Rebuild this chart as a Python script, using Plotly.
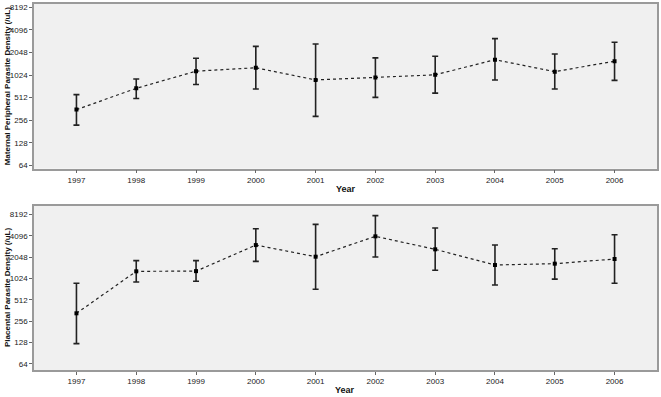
import math
import plotly.graph_objects as go

years = [1997, 1998, 1999, 2000, 2001, 2002, 2003, 2004, 2005, 2006]

# Maternal peripheral parasite density (/uL): mean, upper CI, lower CI
mat_mean = [354, 680, 1152, 1280, 880, 950, 1030, 1640, 1135, 1565]
mat_upper = [560, 905, 1710, 2470, 2650, 1735, 1820, 3130, 1950, 2800]
mat_lower = [220, 498, 765, 666, 288, 515, 588, 880, 666, 870]

# Placental parasite density (/uL)
pla_mean = [329, 1287, 1295, 3020, 2070, 4010, 2630, 1580, 1650, 1920]
pla_upper = [872, 1820, 1820, 5140, 5920, 7850, 5250, 3020, 2680, 4230]
pla_lower = [123, 910, 930, 1780, 718, 2048, 1330, 825, 1000, 872]

y_ticks = [64, 128, 256, 512, 1024, 2048, 4096, 8192]
y_tick_text = [str(v) for v in y_ticks]

FONT = "Liberation Sans, Arial, sans-serif"

fig = go.Figure()

def add_series(mean, upper, lower, xa, ya):
    fig.add_trace(go.Scatter(
        x=years, y=mean, xaxis=xa, yaxis=ya, mode="lines+markers",
        line=dict(color="#222222", width=1.2, dash="dot"),
        marker=dict(symbol="square", size=4, color="#000000"),
        error_y=dict(type="data", symmetric=False,
                     array=[u - m for u, m in zip(upper, mean)],
                     arrayminus=[m - l for m, l in zip(mean, lower)],
                     color="#222222", thickness=1.6, width=3),
        showlegend=False, hoverinfo="skip",
    ))

add_series(mat_mean, mat_upper, mat_lower, "x", "y")
add_series(pla_mean, pla_upper, pla_lower, "x2", "y2")

xcommon = dict(
    range=[1996.29, 2006.71], tickmode="array", tickvals=years,
    ticktext=[str(y) for y in years], automargin=False,
    ticks="outside", ticklen=3, tickcolor="#666666", tickwidth=1,
    showgrid=False, zeroline=False,
    showline=True, linecolor="#9a9a9a", linewidth=1.5, mirror=True,
    tickfont=dict(family=FONT, size=8, color="#222222"),
)
ycommon = dict(
    type="log", tickmode="array", tickvals=y_ticks, ticktext=y_tick_text,
    automargin=False,
    ticks="outside", ticklen=3, tickcolor="#666666", tickwidth=1,
    showgrid=False, zeroline=False,
    showline=True, linecolor="#9a9a9a", linewidth=1.5, mirror=True,
    tickfont=dict(family=FONT, size=8, color="#222222"),
)

top_rng = [5.85 * math.log10(2), 13.146 * math.log10(2)]
bot_rng = [5.705 * math.log10(2), 13.39 * math.log10(2)]

fig.update_layout(
    width=661, height=397,
    margin=dict(l=34, r=4, t=4, b=27, autoexpand=False),
    paper_bgcolor="white", plot_bgcolor="#f0f0f0",
    xaxis=dict(**xcommon, anchor="y"),
    yaxis=dict(**ycommon, domain=[0.55, 1.0], range=top_rng, anchor="x"),
    xaxis2=dict(**xcommon, anchor="y2"),
    yaxis2=dict(**ycommon, domain=[0.0, 0.448], range=bot_rng, anchor="x2"),
)

ann_font = dict(family=FONT, size=8, color="#111111")
fig.add_annotation(text="<b>Maternal Peripheral Parasite Density (/uL)</b>",
                   xref="paper", yref="paper", x=0, y=0.775, xshift=-27,
                   xanchor="center", yanchor="middle",
                   textangle=-90, showarrow=False, font=ann_font)
fig.add_annotation(text="<b>Placental Parasite Density (/uL)</b>",
                   xref="paper", yref="paper", x=0, y=0.224, xshift=-27,
                   xanchor="center", yanchor="middle",
                   textangle=-90, showarrow=False, font=ann_font)
fig.add_annotation(text="<b>Year</b>", xref="paper", yref="paper",
                   x=(345.5 - 34) / 623, y=0.55, yshift=-20,
                   xanchor="center", yanchor="middle",
                   showarrow=False, font=dict(family=FONT, size=9, color="#111111"))
fig.add_annotation(text="<b>Year</b>", xref="paper", yref="paper",
                   x=(345 - 34) / 623, y=0.0, yshift=-20,
                   xanchor="center", yanchor="middle",
                   showarrow=False, font=dict(family=FONT, size=9, color="#111111"))

fig.write_html("out.html", config={"displayModeBar": False},
               post_script="document.body.style.margin='0';")
